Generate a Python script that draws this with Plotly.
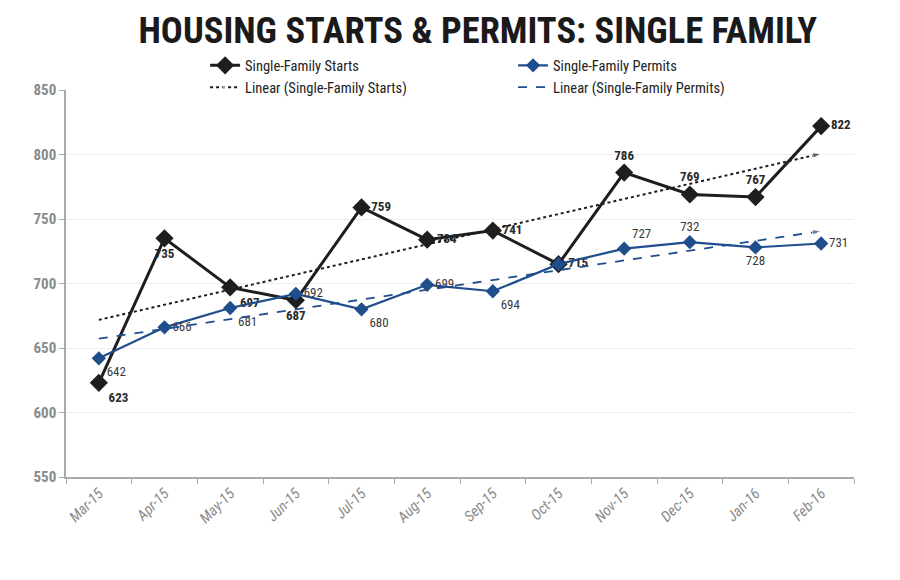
import numpy as np
import plotly.graph_objects as go

months = ["Mar-15", "Apr-15", "May-15", "Jun-15", "Jul-15", "Aug-15",
          "Sep-15", "Oct-15", "Nov-15", "Dec-15", "Jan-16", "Feb-16"]
starts = [623, 735, 697, 687, 759, 734, 741, 715, 786, 769, 767, 822]
permits = [642, 666, 681, 692, 680, 699, 694, 715, 727, 732, 728, 731]
y_ticks = [550, 600, 650, 700, 750, 800, 850]

starts_pos = ["bottom right", "bottom center", "bottom right", "bottom center",
              "middle right", "middle right", "middle right", "middle right",
              "top center", "top center", "top center", "middle right"]
permits_pos = ["bottom right", "middle right", "bottom right", "middle right",
               "bottom right", "middle right", "bottom right", "middle right",
               "top right", "top center", "bottom center", "middle right"]

idx = np.arange(len(months))
s_fit = np.polyval(np.polyfit(idx, starts, 1), idx)
p_fit = np.polyval(np.polyfit(idx, permits, 1), idx)

n = len(months)
arrow_sizes = [0] * (n - 1) + [9]

FONT = "Liberation Sans Narrow, Arial Narrow, Roboto Condensed, Arial, sans-serif"
BLACK = "#1e1e1e"
BLUE = "#1f4e8c"

fig = go.Figure()

fig.add_trace(go.Scatter(
    x=months, y=starts, name="Single-Family Starts", mode="lines+markers+text",
    line=dict(color=BLACK, width=3),
    marker=dict(symbol="diamond", size=14, color=BLACK),
    text=[str(v) for v in starts], textposition=starts_pos,
    textfont=dict(family=FONT, size=13, color="#2a2a2a", weight="bold"),
))
fig.add_trace(go.Scatter(
    x=months, y=permits, name="Single-Family Permits", mode="lines+markers+text",
    line=dict(color=BLUE, width=2.2),
    marker=dict(symbol="diamond", size=11, color=BLUE),
    text=[str(v) if i != 7 else "" for i, v in enumerate(permits)],
    textposition=permits_pos,
    textfont=dict(family=FONT, size=13, color="#3a3a3a"),
))
fig.add_trace(go.Scatter(
    x=months, y=s_fit, name="Linear (Single-Family Starts)", mode="lines+markers",
    line=dict(color=BLACK, width=2, dash="dot"),
    marker=dict(symbol="arrow", size=arrow_sizes, angleref="previous", color=BLACK),
))
fig.add_trace(go.Scatter(
    x=months, y=p_fit, name="Linear (Single-Family Permits)", mode="lines+markers",
    line=dict(color=BLUE, width=1.8, dash="dash"),
    marker=dict(symbol="arrow", size=arrow_sizes, angleref="previous", color=BLUE),
))

fig.update_layout(
    width=900, height=580,
    margin=dict(l=58, r=54, t=82, b=111, autoexpand=False),
    paper_bgcolor="white", plot_bgcolor="white",
    title=dict(text="<b>HOUSING STARTS &amp; PERMITS: SINGLE FAMILY</b>",
               x=0.522, xanchor="center", y=0.962, yanchor="middle",
               font=dict(family=FONT, size=36.5, color="#1a1a1a")),
    showlegend=True,
    legend=dict(orientation="h", x=0.1765, xanchor="left", y=1.105, yanchor="top",
                entrywidth=263, bgcolor="white", traceorder="normal",
                font=dict(family=FONT, size=14.5, color="#222"),
                itemwidth=30, tracegroupgap=0),
    xaxis=dict(type="category", categoryorder="array", categoryarray=months,
               tickangle=-45, showgrid=False, showline=True, linecolor="#aaaaaa",
               linewidth=1.5, ticks="outside", tickson="boundaries", ticklen=5,
               tickcolor="#aaaaaa", range=[-0.5, n - 0.5], automargin=False,
               tickfont=dict(family=FONT, size=15, color="#8a8a8a", style="italic")),
    yaxis=dict(range=[550, 850], tickvals=y_ticks, showgrid=True,
               gridcolor="#eeeeee", showline=True, linecolor="#aaaaaa",
               linewidth=1.5, ticks="outside", ticklen=5, tickcolor="#aaaaaa",
               zeroline=False, automargin=False,
               tickfont=dict(family=FONT, size=15, color="#8a8a8a", weight="bold")),
)

fig.write_html("out.html")
